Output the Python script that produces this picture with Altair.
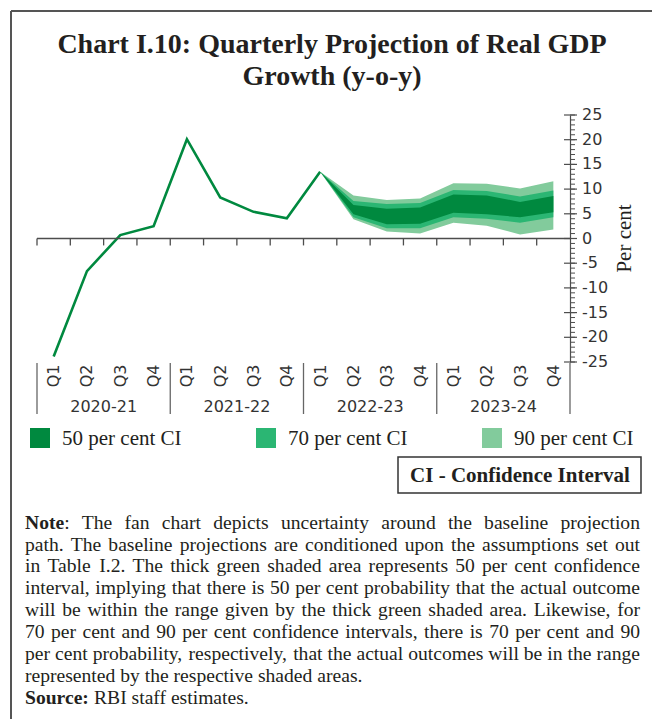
import altair as alt
import pandas as pd

# ---------------- data ----------------
quarters = ["Q1", "Q2", "Q3", "Q4"]
years = ["2020-21", "2021-22", "2022-23", "2023-24"]
actual_growth = [-23.9, -6.6, 0.7, 2.5, 20.1, 8.3, 5.4, 4.1, 13.5]

fan_start = 8
ci50_hi = [13.5, 6.8, 6.0, 6.3, 8.9, 8.7, 7.4, 8.6]
ci50_lo = [13.5, 4.9, 2.9, 3.0, 5.2, 4.9, 4.3, 5.3]
ci70_hi = [13.5, 7.6, 7.0, 7.2, 9.8, 9.6, 8.5, 9.7]
ci70_lo = [13.5, 4.3, 2.1, 2.1, 4.3, 4.0, 3.2, 4.3]
ci90_hi = [13.5, 8.7, 7.8, 8.1, 11.2, 11.1, 10.1, 11.6]
ci90_lo = [13.5, 3.9, 1.4, 1.0, 3.2, 2.6, 0.8, 1.8]

legend_labels = ["50 per cent CI", "70 per cent CI", "90 per cent CI"]
band_colors = ["#00893f", "#2bb673", "#82cb9c"]
line_color = "#00893f"

y_major = list(range(-25, 30, 5))
y_major_labels = [str(v) for v in y_major]
y_minor = list(range(-25, 26))

title_lines = ["Chart I.10: Quarterly Projection of Real GDP", "Growth (y-o-y)"]
note_lines = [
    "Note: The fan chart depicts uncertainty around the baseline projection",
    "path. The baseline projections are conditioned upon the assumptions set out",
    "in Table I.2.  The thick green shaded area represents 50 per cent confidence",
    "interval, implying that there is 50 per cent probability that the actual outcome",
    "will be within the range given by the thick green shaded area. Likewise, for",
    "70 per cent and 90 per cent confidence intervals, there is 70 per cent and 90",
    "per cent probability, respectively,  that the actual outcomes will be in the range",
    "represented by the respective shaded areas.",
]
source_text = "RBI staff estimates."

# ---------------- layout ----------------
W, H = 533, 247
SERIF = "Liberation Serif"
SANS = "DejaVu Sans"
TXT = "#231f20"
AX = "#4d4d4d"
NOTE_FS = 19.6
NOTE_X0, NOTE_X1 = -12, 603
note_y = [408, 430, 451, 473, 495, 517, 539, 561]

# Times-compatible advance widths (per 1000 em) used to justify the note text
_TR = {" ": 250, ",": 250, ".": 250, ":": 278, "-": 333, "(": 333, ")": 333}
_TR.update({d: 500 for d in "0123456789"})
_TR.update(dict(zip("abcdefghijklmnopqrstuvwxyz",
                    [444, 500, 444, 500, 444, 333, 500, 500, 278, 278, 500, 278, 778, 500, 500,
                     500, 500, 333, 389, 278, 500, 500, 722, 500, 500, 444])))
_TR.update(dict(zip("ABCDEFGHIJKLMNOPQRSTUVWXYZ",
                    [722, 667, 667, 722, 611, 556, 722, 722, 333, 389, 722, 611, 889, 722, 722,
                     556, 722, 667, 556, 611, 722, 722, 944, 722, 722, 611])))
NOTE_BOLD_W = (722 + 500 + 333 + 444) / 1000.0  # "Note" in bold


def text_w(s):
    return sum(_TR.get(c, 500) for c in s) / 1000.0 * NOTE_FS


note_rows = []
for li, (line_txt, yy) in enumerate(zip(note_lines, note_y)):
    words = line_txt.split()
    widths = []
    for wi, w in enumerate(words):
        if li == 0 and wi == 0:
            widths.append(NOTE_BOLD_W * NOTE_FS + text_w(":"))
        else:
            widths.append(text_w(w))
    justify = li < len(note_lines) - 1
    if justify:
        gap = (NOTE_X1 - NOTE_X0 - sum(widths)) / (len(words) - 1)
    else:
        gap = text_w(" ")
    xx = NOTE_X0
    for wi, (w, ww) in enumerate(zip(words, widths)):
        if li == 0 and wi == 0:
            note_rows.append({"w": "Note", "x": xx, "y": yy, "bold": True})
            note_rows.append({"w": ":", "x": xx + NOTE_BOLD_W * NOTE_FS, "y": yy, "bold": False})
        else:
            note_rows.append({"w": w, "x": xx, "y": yy, "bold": False})
        xx += ww + gap
note_df = pd.DataFrame(note_rows)

n = len(quarters) * len(years)
xscale = alt.Scale(domain=[-0.5, n - 0.5], nice=False, zero=False)
yscale = alt.Scale(domain=[-25, 25], nice=False, zero=False)

q_expr = "[" + ",".join("'%s'" % q for q in quarters) + "][datum.value % 4]"

line_df = pd.DataFrame({"idx": list(range(len(actual_growth))), "g": actual_growth})

fan_rows = []
for name, lo, hi in [("90", ci90_lo, ci90_hi), ("70", ci70_lo, ci70_hi), ("50", ci50_lo, ci50_hi)]:
    for i, (a, b) in enumerate(zip(lo, hi)):
        fan_rows.append({"band": name, "idx": fan_start + i, "lo": a, "hi": b})
fan_df = pd.DataFrame(fan_rows)
band_col = {"50": band_colors[0], "70": band_colors[1], "90": band_colors[2]}

one = alt.Data(values=[{"a": 1}])

x_axis = alt.Axis(values=list(range(n)), labelExpr=q_expr, labelAngle=270, labelAlign="right",
                  labelBaseline="middle", labelPadding=2, labelFont=SANS, labelFontSize=16,
                  labelColor="#333333", labelOverlap=False, labelFlush=False, domain=False,
                  ticks=False, grid=False, title=None)
y_axis = alt.Axis(orient="right", values=y_major, labels=False, ticks=False, domain=True,
                  domainColor=AX, domainWidth=1.2, grid=False, title=None)


def X(field):
    return alt.X(field, scale=xscale, axis=x_axis)


def Y(field):
    return alt.Y(field, scale=yscale, axis=y_axis)


# zero line
zero_line = alt.Chart(one).mark_rule(color=AX, strokeWidth=1.5).encode(
    y=alt.YDatum(0, scale=yscale, axis=y_axis))

# ticks at the zero line (band boundaries)
bounds_df = pd.DataFrame({"b": [i - 0.5 for i in range(n)]})
zero_ticks = alt.Chart(bounds_df).mark_rule(color=AX, strokeWidth=1.3).encode(
    x=X("b:Q"), y=alt.YDatum(0, scale=yscale, axis=y_axis), y2=alt.datum(-1.4))

areas = []
for name in ["90", "70", "50"]:
    areas.append(
        alt.Chart(fan_df).transform_filter(alt.datum.band == name)
        .mark_area(color=band_col[name], opacity=1, interpolate="linear")
        .encode(x=X("idx:Q"), y=Y("lo:Q"), y2="hi:Q"))

line = alt.Chart(line_df).mark_line(color=line_color, strokeWidth=2.6).encode(
    x=X("idx:Q"), y=Y("g:Q"))

minor_df = pd.DataFrame({"v": y_minor})
major_df = pd.DataFrame({"v": y_major, "lab": y_major_labels})
minor_ticks = alt.Chart(minor_df).mark_rule(color=AX, strokeWidth=1).encode(
    y=Y("v:Q"), x=alt.value(W), x2=alt.value(W + 5))
major_ticks = alt.Chart(major_df).mark_rule(color=AX, strokeWidth=1.2).encode(
    y=Y("v:Q"), x=alt.value(W - 6), x2=alt.value(W + 7))
y_labels = alt.Chart(major_df).mark_text(font=SANS, fontSize=16, color="#333333",
                                         align="left", baseline="middle").encode(
    y=Y("v:Q"), x=alt.value(W + 12), text="lab:N")
y_title = alt.Chart(one).mark_text(text="Per cent", font=SERIF, fontSize=21, color=TXT,
                                   angle=270, align="center", baseline="middle").encode(
    x=alt.value(W + 55), y=alt.value(H / 2))

# year separators and labels
sep_df = pd.DataFrame({"s": [k * 4 - 0.5 for k in range(len(years) + 1)]})
separators = alt.Chart(sep_df).mark_rule(color="#666666", strokeWidth=1.3).encode(
    x=X("s:Q"), y=alt.value(H + 1), y2=alt.value(H + 52))
year_df = pd.DataFrame({"year": years, "c": [k * 4 + 1.5 for k in range(len(years))]})
year_labels = alt.Chart(year_df).mark_text(font=SANS, fontSize=16, color="#333333",
                                           baseline="middle", align="center").encode(
    x=X("c:Q"), y=alt.value(H + 45), text="year:N")

# title
titles = [
    alt.Chart(one).mark_text(text=t, font=SERIF, fontSize=28, fontWeight="bold", color=TXT,
                             align="center", baseline="middle").encode(
        x=alt.value(295), y=alt.value(yy))
    for t, yy in zip(title_lines, [-70, -38])
]

# legend (manual)
leg_x = [-7, 219, 445]
legend_layers = []
for lab, col, lx in zip(legend_labels, band_colors, leg_x):
    legend_layers.append(alt.Chart(one).mark_rect(color=col).encode(
        x=alt.value(lx), x2=alt.value(lx + 20), y=alt.value(313), y2=alt.value(333)))
    legend_layers.append(alt.Chart(one).mark_text(text=lab, font=SERIF, fontSize=21, color=TXT,
                                                  align="left", baseline="middle").encode(
        x=alt.value(lx + 32), y=alt.value(324)))

ci_box = alt.Chart(one).mark_rect(fill="white", stroke="#333333", strokeWidth=1.5).encode(
    x=alt.value(361), x2=alt.value(604), y=alt.value(342), y2=alt.value(378))
ci_text = alt.Chart(one).mark_text(text="CI - Confidence Interval", font=SERIF, fontSize=21,
                                   fontWeight="bold", color=TXT, align="center",
                                   baseline="middle").encode(x=alt.value(483), y=alt.value(361))

# note (justified word by word)
note_reg = alt.Chart(note_df).transform_filter("!datum.bold").mark_text(
    font=SERIF, fontSize=NOTE_FS, color=TXT, align="left", baseline="middle").encode(
    x=alt.X("x:Q", scale=None), y=alt.Y("y:Q", scale=None), text="w:N")
note_bold = alt.Chart(note_df).transform_filter("datum.bold").mark_text(
    font=SERIF, fontSize=NOTE_FS, fontWeight="bold", color=TXT, align="left",
    baseline="middle").encode(
    x=alt.X("x:Q", scale=None), y=alt.Y("y:Q", scale=None), text="w:N")
source_layers = [
    alt.Chart(one).mark_text(text="Source:", font=SERIF, fontSize=NOTE_FS, fontWeight="bold",
                             color=TXT, align="left", baseline="middle").encode(
        x=alt.value(-12), y=alt.value(583)),
    alt.Chart(one).mark_text(text=source_text, font=SERIF, fontSize=NOTE_FS, color=TXT,
                             align="left", baseline="middle").encode(
        x=alt.value(57), y=alt.value(583)),
]

# frame
frame_left = alt.Chart(one).mark_rule(color="#555555", strokeWidth=2).encode(
    x=alt.value(-26), y=alt.value(-104), y2=alt.value(610))
frame_top = alt.Chart(one).mark_rule(color="#555555", strokeWidth=2).encode(
    y=alt.value(-104), x=alt.value(-26), x2=alt.value(620))

chart = alt.layer(
    line, zero_line, zero_ticks, *areas, minor_ticks, major_ticks, y_labels, y_title,
    separators, year_labels,
    *titles, *legend_layers, ci_box, ci_text, note_reg, note_bold, *source_layers,
    frame_left, frame_top,
).properties(
    width=W, height=H,
    padding={"left": 37, "top": 115, "right": 82, "bottom": 357},
    autosize=alt.AutoSizeParams(type="none"),
    background="white",
).configure_view(stroke=None)

chart.save("out.html", embed_options={"renderer": "svg", "actions": False})
